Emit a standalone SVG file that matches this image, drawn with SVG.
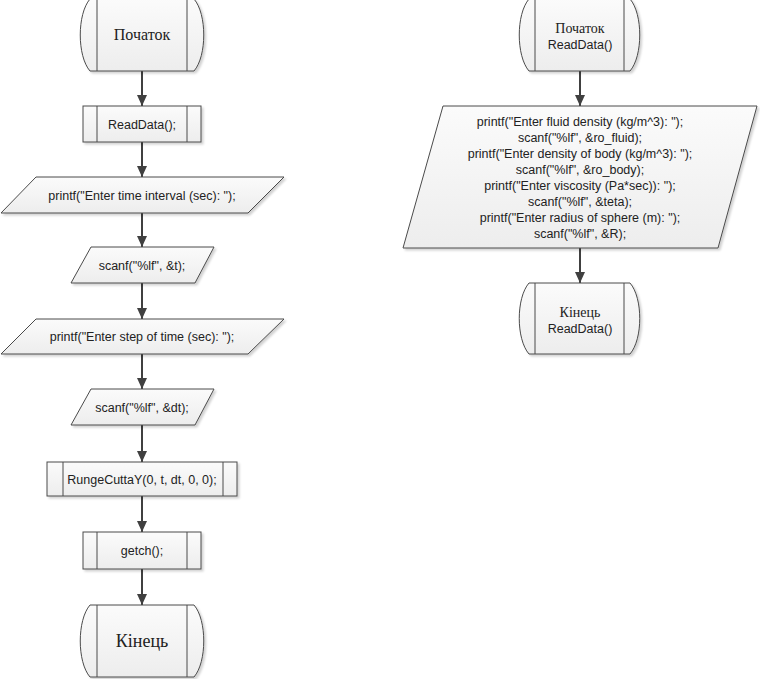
<svg xmlns="http://www.w3.org/2000/svg" width="760" height="679" viewBox="0 0 760 679">
<defs>
<linearGradient id="g" x1="0" y1="0" x2="0" y2="1">
<stop offset="0" stop-color="#fbfbfb"/>
<stop offset="1" stop-color="#ededed"/>
</linearGradient>
<filter id="sh" x="-10%" y="-10%" width="125%" height="130%">
<feDropShadow dx="2" dy="2" stdDeviation="1.2" flood-color="#000" flood-opacity="0.18"/>
</filter>
<marker id="arr" markerUnits="userSpaceOnUse" markerWidth="12" markerHeight="12" viewBox="0 0 12 12" refX="11" refY="6" orient="auto">
<path d="M0,1 L11,6 L0,11 Z" fill="#404040"/>
</marker>
</defs>
<style>
.s{fill:url(#g);stroke:#4a4a4a;stroke-width:1;filter:url(#sh)}
.l{fill:none;stroke:#4a4a4a;stroke-width:1}
.c{fill:none;stroke:#404040;stroke-width:2;marker-end:url(#arr)}
.t{font-family:"Liberation Sans",Arial,sans-serif;font-size:12.5px;fill:#222;text-anchor:middle}
.sf{font-family:"Liberation Serif","Times New Roman",serif;fill:#222;text-anchor:middle}
</style>
<rect width="760" height="679" fill="#fff"/>
<g id="connectors">
<line class="c" x1="142" y1="71" x2="142" y2="106"/>
<line class="c" x1="142" y1="142" x2="142" y2="177"/>
<line class="c" x1="142" y1="213" x2="142" y2="247"/>
<line class="c" x1="142" y1="283" x2="142" y2="319"/>
<line class="c" x1="142" y1="354" x2="142" y2="389"/>
<line class="c" x1="142" y1="425" x2="142" y2="462"/>
<line class="c" x1="142" y1="496" x2="142" y2="532"/>
<line class="c" x1="142" y1="569" x2="142" y2="605"/>
<line class="c" x1="580" y1="71" x2="580" y2="106"/>
<line class="c" x1="580" y1="248" x2="580" y2="283"/>
</g>
<g id="start1">
<path class="s" d="M90,-1 L194,-1 C207,14 207,56 194,71 L90,71 C77,56 77,14 90,-1 Z"/>
<line class="l" x1="97" y1="-1" x2="97" y2="71"/>
<line class="l" x1="187" y1="-1" x2="187" y2="71"/>
<text class="sf" x="142" y="40" font-size="16">Початок</text>
</g>
<g id="readdata">
<rect class="s" x="83" y="106" width="118" height="36"/>
<line class="l" x1="97" y1="106" x2="97" y2="142"/>
<line class="l" x1="187" y1="106" x2="187" y2="142"/>
<text class="t" x="142" y="128.5">ReadData();</text>
</g>
<g id="printf1">
<path class="s" d="M36,177 L284,177 L248,213 L1,213 Z"/>
<text class="t" x="142" y="199.5">printf("Enter time interval (sec): ");</text>
</g>
<g id="scanf1">
<path class="s" d="M91,247 L214,247 L195,283 L71,283 Z"/>
<text class="t" x="142" y="269.5">scanf("%lf", &amp;t);</text>
</g>
<g id="printf2">
<path class="s" d="M36,319 L284,319 L248,354 L1,354 Z"/>
<text class="t" x="142" y="341">printf("Enter step of time (sec): ");</text>
</g>
<g id="scanf2">
<path class="s" d="M91,389 L214,389 L195,425 L71,425 Z"/>
<text class="t" x="142" y="411.5">scanf("%lf", &amp;dt);</text>
</g>
<g id="runge">
<rect class="s" x="47" y="462" width="190" height="34"/>
<line class="l" x1="63" y1="462" x2="63" y2="496"/>
<line class="l" x1="223" y1="462" x2="223" y2="496"/>
<text class="t" x="142" y="483.5">RungeCuttaY(0, t, dt, 0, 0);</text>
</g>
<g id="getch">
<rect class="s" x="83" y="532" width="118" height="37"/>
<line class="l" x1="97" y1="532" x2="97" y2="569"/>
<line class="l" x1="187" y1="532" x2="187" y2="569"/>
<text class="t" x="142" y="555">getch();</text>
</g>
<g id="end1">
<path class="s" d="M90,605 L194,605 C207,620 207,662 194,677 L90,677 C77,662 77,620 90,605 Z"/>
<line class="l" x1="97" y1="605" x2="97" y2="677"/>
<line class="l" x1="187" y1="605" x2="187" y2="677"/>
<text class="sf" x="142" y="647" font-size="18">Кінець</text>
</g>
<g id="start2">
<path class="s" d="M529,-1 L630,-1 C643,14 643,56 630,71 L529,71 C516,56 516,14 529,-1 Z"/>
<line class="l" x1="535" y1="-1" x2="535" y2="71"/>
<line class="l" x1="624" y1="-1" x2="624" y2="71"/>
<text class="sf" x="580" y="33" font-size="14">Початок</text>
<text class="t" x="580" y="48.5">ReadData()</text>
</g>
<g id="input">
<path class="s" d="M443,106 L757,106 L718,248 L403,248 Z"/>
<text class="t" x="580" y="125.5">printf("Enter fluid density (kg/m^3): ");</text>
<text class="t" x="580" y="141.5">scanf("%lf", &amp;ro_fluid);</text>
<text class="t" x="580" y="157.5">printf("Enter density of body (kg/m^3): ");</text>
<text class="t" x="580" y="173.5">scanf("%lf", &amp;ro_body);</text>
<text class="t" x="580" y="189.5">printf("Enter viscosity (Pa*sec)): ");</text>
<text class="t" x="580" y="205.5">scanf("%lf", &amp;teta);</text>
<text class="t" x="580" y="221.5">printf("Enter radius of sphere (m): ");</text>
<text class="t" x="580" y="237.5">scanf("%lf", &amp;R);</text>
</g>
<g id="end2">
<path class="s" d="M529,283 L630,283 C643,298 643,339 630,354 L529,354 C516,339 516,298 529,283 Z"/>
<line class="l" x1="535" y1="283" x2="535" y2="354"/>
<line class="l" x1="624" y1="283" x2="624" y2="354"/>
<text class="sf" x="580" y="317" font-size="14">Кінець</text>
<text class="t" x="580" y="332.5">ReadData()</text>
</g>
</svg>
